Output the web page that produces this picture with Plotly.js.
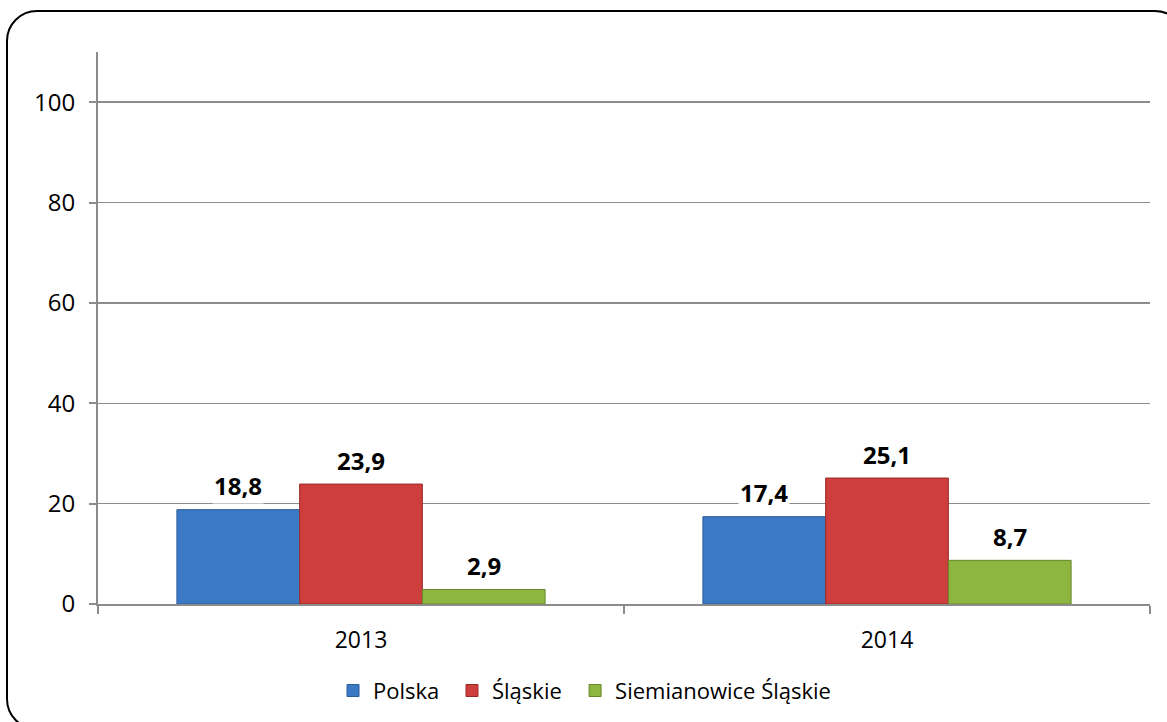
<!DOCTYPE html>
<html>
<head>
<meta charset="utf-8">
<script src="https://cdn.plot.ly/plotly-3.0.1.min.js"></script>
<style>
html,body{margin:0;padding:0;width:1167px;height:722px;overflow:hidden;background:#fff;}
#frame{position:absolute;left:0;top:0;}
#chart{position:absolute;left:0;top:0;width:1167px;height:722px;}
</style>
</head>
<body>
<svg id="frame" width="1167" height="722"><rect x="7" y="11" width="1178" height="718" rx="30" ry="30" fill="none" stroke="#000" stroke-width="2"/></svg>
<div id="chart"></div>
<script>
const categories = ['2013', '2014'];
const seriesNames = ['Polska', 'Śląskie', 'Siemianowice Śląskie'];
const polska = [18.8, 17.4];
const slaskie = [23.9, 25.1];
const siemianowice = [2.9, 8.7];
const yTickVals = [0, 20, 40, 60, 80, 100];

const values = [polska, slaskie, siemianowice];
const colors = ['#3c79c5', '#cd3e3c', '#8db640'];
const outlines = ['#2b5c9a', '#9a2b29', '#66862a'];
const legendIds = ['legend', 'legend2', 'legend3'];
const legendX = [0.2234, 0.3365, 0.4535];
const bargap = 0.3;
const barW = (1 - bargap) / values.length;

const traces = values.map((v, i) => ({
  type: 'bar',
  name: seriesNames[i],
  x: categories,
  y: v,
  legend: legendIds[i],
  marker: {color: colors[i], line: {color: outlines[i], width: 1}},
  hoverinfo: 'none'
}));

const annotations = [];
values.forEach((v, i) => {
  v.forEach((val, j) => {
    annotations.push({
      x: j + (i - (values.length - 1) / 2) * barW,
      y: val,
      xref: 'x', yref: 'y',
      text: val.toFixed(1).replace('.', ','),
      showarrow: false,
      yanchor: 'middle',
      yshift: 24,
      bgcolor: '#ffffff',
      borderpad: 1,
      font: {family: 'Open Sans', size: 24, color: '#000', weight: 'bold'}
    });
  });
});

const layout = {
  width: 1167, height: 722,
  margin: {l: 98, r: 17, t: 52, b: 117},
  paper_bgcolor: 'rgba(0,0,0,0)',
  plot_bgcolor: 'rgba(0,0,0,0)',
  barmode: 'group',
  bargap: bargap,
  bargroupgap: 0,
  font: {family: 'Open Sans', size: 22, color: '#000'},
  xaxis: {
    type: 'category',
    showline: true, linecolor: '#8c8c8c', linewidth: 2,
    ticks: 'outside', tickson: 'boundaries', ticklen: 8, tickcolor: '#8c8c8c', tickwidth: 2,
    showgrid: false,
    tickfont: {family: 'Open Sans', size: 23, color: '#000'},
    ticklabelstandoff: 14
  },
  yaxis: {
    range: [0, 110],
    tickvals: yTickVals,
    showline: true, linecolor: '#8c8c8c', linewidth: 2,
    ticks: 'outside', ticklen: 7, tickcolor: '#8c8c8c', tickwidth: 2,
    showgrid: true, gridcolor: '#8c8c8c', gridwidth: 1.5,
    zeroline: false,
    tickfont: {family: 'Open Sans', size: 24, color: '#000'},
    ticklabelstandoff: 9
  },
  showlegend: true,
  annotations: annotations
};
legendIds.forEach((id, i) => {
  layout[id] = {
    orientation: 'h',
    x: legendX[i], xanchor: 'left',
    y: -0.155, yanchor: 'middle',
    bgcolor: 'rgba(0,0,0,0)',
    font: {family: 'Open Sans', size: 22, color: '#000'}
  };
});

Plotly.newPlot('chart', traces, layout, {displayModeBar: false, staticPlot: true});
</script>
</body>
</html>
